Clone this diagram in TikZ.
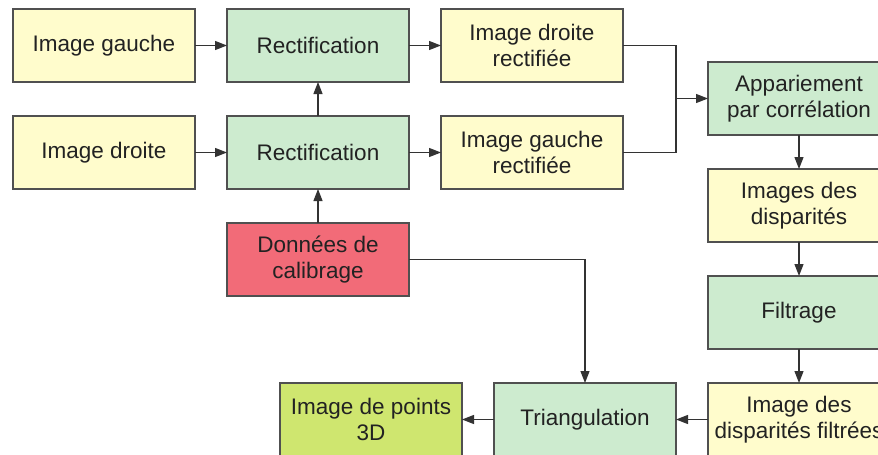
\documentclass[tikz,border=0pt]{standalone}
\usepackage{fontspec}
\setmainfont{Liberation Sans}
\usetikzlibrary{arrows.meta}
\definecolor{yel}{HTML}{FFFCCC}
\definecolor{grn}{HTML}{CDEBCF}
\definecolor{redb}{HTML}{F26B78}
\definecolor{lime}{HTML}{CFE66F}
\definecolor{bord}{HTML}{505050}
\definecolor{txt}{HTML}{222222}
\definecolor{conn}{HTML}{333333}
\tikzset{
  box/.style={draw=bord, line width=1.4pt, minimum width=182pt, minimum height=73pt,
    inner sep=0pt, outer sep=0pt, align=center, text=txt,
    font=\fontsize{22.5}{26}\selectfont},
  ybox/.style={box, fill=yel},
  gbox/.style={box, fill=grn},
  rbox/.style={box, fill=redb},
  lbox/.style={box, fill=lime},
  conn/.style={draw=conn, line width=1.2pt},
  arr/.style={conn, -{Triangle[length=12pt,width=9pt]}}
}
\begin{document}
\begin{tikzpicture}[x=1pt,y=1pt]
\clip (0,0) rectangle (878,-455);
\fill[white] (0,0) rectangle (878,-455);
\node[ybox] (ig) at (104,-45.5) {Image gauche};
\node[gbox] (r1) at (318,-45.5) {Rectification};
\node[ybox] (idr) at (532,-45.5) {Image droite\\rectifiée};
\node[ybox] (id) at (104,-152.5) {Image droite};
\node[gbox] (r2) at (318,-152.5) {Rectification};
\node[ybox] (igr) at (532,-152.5) {Image gauche\\rectifiée};
\node[rbox] (don) at (318,-259.5) {Données de\\calibrage};
\node[gbox] (app) at (799,-98.5) {Appariement\\par corrélation};
\node[ybox] (ids) at (799,-205.5) {Images des\\disparités};
\node[gbox] (fil) at (799,-312.5) {Filtrage};
\node[ybox] (idf) at (799,-419.5) {Image des\\disparités filtrées};
\node[gbox] (tri) at (585,-419.5) {Triangulation};
\node[lbox] (i3d) at (371,-419.5) {Image de points\\3D};
\coordinate (j) at (676,-98.5);
\draw[arr] (ig.east) -- (r1.west);
\draw[arr] (id.east) -- (r2.west);
\draw[arr] (r1.east) -- (idr.west);
\draw[arr] (r2.east) -- (igr.west);
\draw[arr] (r2.north) -- (r1.south);
\draw[arr] (don.north) -- (r2.south);
\draw[conn] (idr.east) -| (j);
\draw[conn] (igr.east) -| (j);
\draw[arr] (j) -- (app.west);
\draw[arr] (app.south) -- (ids.north);
\draw[arr] (ids.south) -- (fil.north);
\draw[arr] (fil.south) -- (idf.north);
\draw[arr] (idf.west) -- (tri.east);
\draw[arr] (tri.west) -- (i3d.east);
\draw[arr] (don.east) -| (tri.north);
\end{tikzpicture}
\end{document}
